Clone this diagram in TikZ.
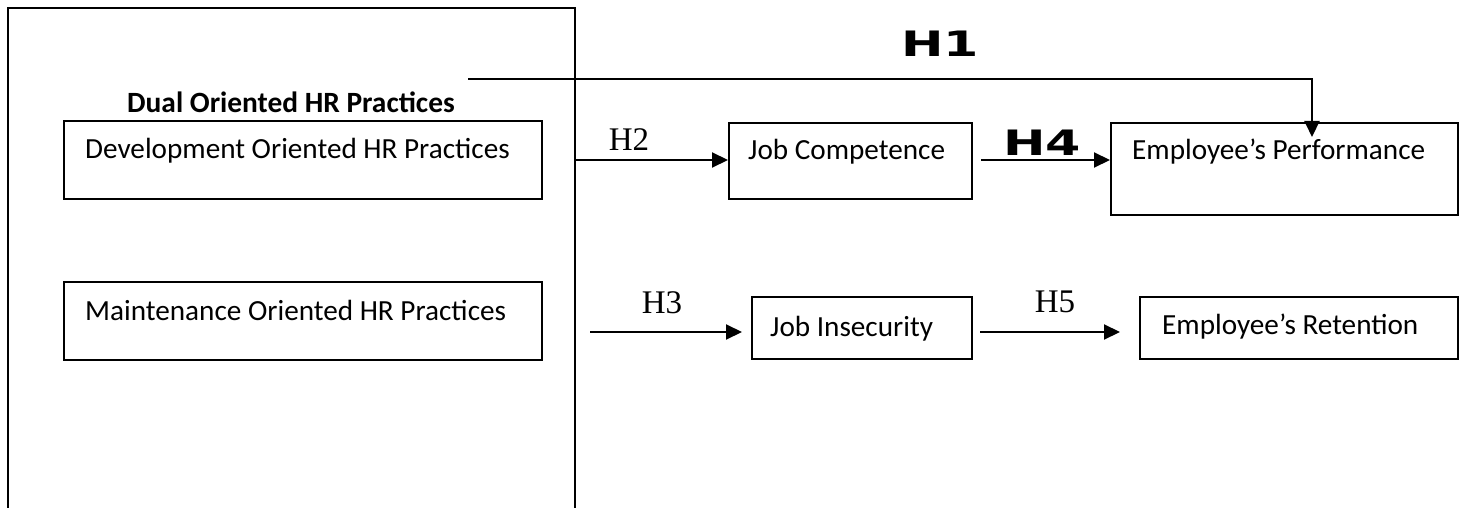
\documentclass[tikz,border=0pt]{standalone}
\usepackage{fontspec}
\usepackage{graphicx}
\setmainfont{Carlito}
\newfontfamily\timesf{Liberation Serif}
\newfontfamily\widef{DejaVu Sans}
\usetikzlibrary{arrows.meta}
\begin{document}
\begin{tikzpicture}[x=1pt,y=-1pt,
 box/.style={draw, line width=2pt, anchor=north west, inner sep=0pt},
 txt/.style={anchor=base west, inner sep=0pt, font=\fontsize{29.2}{29}\selectfont},
 conn/.style={line width=2pt, -{Triangle[length=16pt,width=15pt]}},
 hlab/.style={anchor=base, inner sep=0pt, font=\timesf\fontsize{33}{33}\selectfont},
 wlab/.style={anchor=base, inner sep=0pt, font=\widef\bfseries\fontsize{35}{35}\selectfont}]
\useasboundingbox (0,0) rectangle (1461,508);
\clip (0,0) rectangle (1461,508);
\fill[white] (0,0) rectangle (1461,508);
% outer box (open at the bottom)
\node[box, minimum width=567pt, minimum height=560pt] (outer) at (7,7) {};
\node[anchor=base, inner sep=0pt, font=\bfseries\fontsize{29.4}{29}\selectfont] (title) at (291,113) {Dual Oriented HR Practices};
% left boxes
\node[box, minimum width=478pt, minimum height=78pt] (dev) at (63,120) {};
\node[txt] (devt) at (85,158) {Development Oriented HR Practices};
\node[box, minimum width=478pt, minimum height=78pt] (mai) at (63,281) {};
\node[txt] (mait) at (85,320) {Maintenance Oriented HR Practices};
% right boxes
\node[box, minimum width=243pt, minimum height=76pt] (jc) at (728,122) {};
\node[txt] (jct) at (748,160) {Job Competence};
\node[box, minimum width=347pt, minimum height=92pt] (ep) at (1110,122) {};
\node[txt] (ept) at (1132,160) {Employee’s Performance};
\node[box, minimum width=220pt, minimum height=62pt] (ji) at (751,296) {};
\node[txt] (jit) at (770,336) {Job Insecurity};
\node[box, minimum width=318pt, minimum height=62pt] (er) at (1139,296) {};
\node[txt] (ert) at (1162,334) {Employee’s Retention};
% connectors
\coordinate (h1s) at (468,79);
\coordinate (h1e) at (1312,137);
\coordinate (yrow1) at (0,160);
\coordinate (yrow2) at (0,332);
\draw[conn] (h1s) -| (h1e);
\draw[conn] (outer.east |- yrow1) -- (jc.west |- yrow1);
\draw[conn, shorten <=8pt] (jc.east |- yrow1) -- (ep.west |- yrow1);
\draw[conn, shorten <=14pt, shorten >=9pt] (outer.east |- yrow2) -- (ji.west |- yrow2);
\draw[conn, shorten <=7pt, shorten >=19pt] (ji.east |- yrow2) -- (er.west |- yrow2);
% labels
\node[wlab] (h1) at (940,57) {\scalebox{1.45}[1]{H1}};
\node[wlab] (h4) at (1042,156) {\scalebox{1.45}[1]{H4}};
\node[hlab] (h2) at (629,150) {H2};
\node[hlab] (h3) at (662,313) {H3};
\node[hlab] (h5) at (1055,312) {H5};
\end{tikzpicture}
\end{document}
